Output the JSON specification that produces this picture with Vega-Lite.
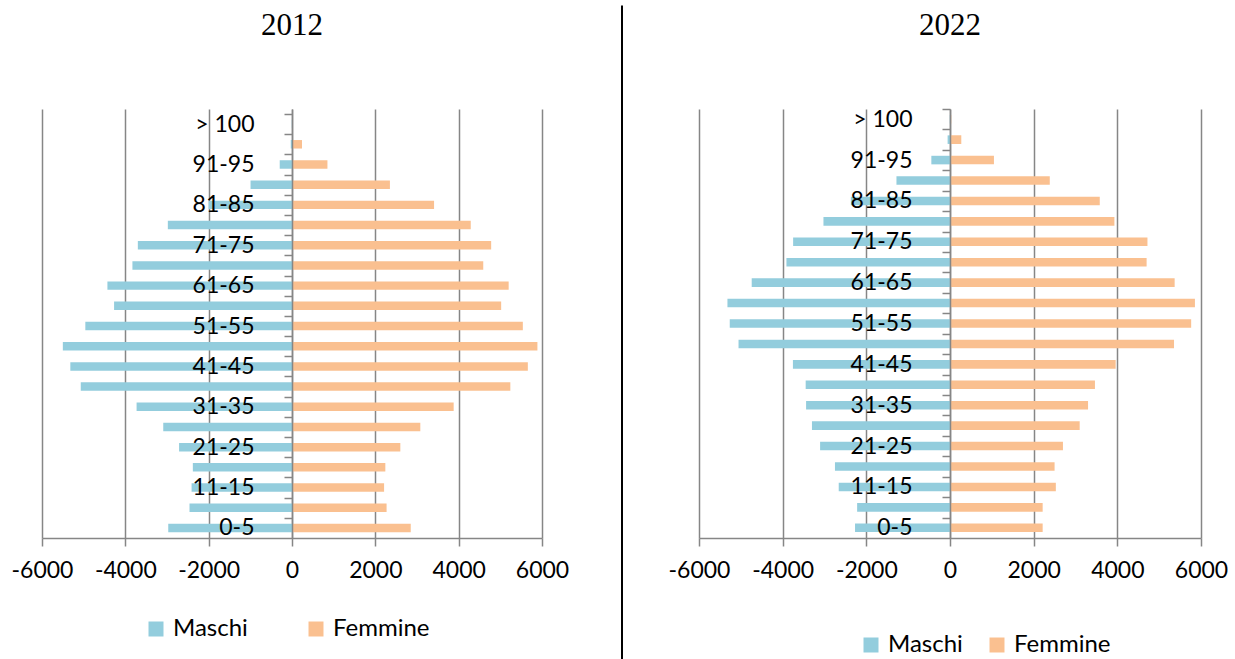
{
  "$schema": "https://vega.github.io/schema/vega-lite/v6.json",
  "background": "white",
  "padding": {"left": 11, "top": 4, "right": 0, "bottom": 0},
  "spacing": 45,
  "datasets": {
    "pop": [
      {"anno": "2012", "eta": "> 100", "sesso": "Maschi", "valore": -5},
      {"anno": "2012", "eta": "> 100", "sesso": "Femmine", "valore": 15},
      {"anno": "2012", "eta": "96-100", "sesso": "Maschi", "valore": -30},
      {"anno": "2012", "eta": "96-100", "sesso": "Femmine", "valore": 240},
      {"anno": "2012", "eta": "91-95", "sesso": "Maschi", "valore": -295},
      {"anno": "2012", "eta": "91-95", "sesso": "Femmine", "valore": 850},
      {"anno": "2012", "eta": "86-90", "sesso": "Maschi", "valore": -995},
      {"anno": "2012", "eta": "86-90", "sesso": "Femmine", "valore": 2350},
      {"anno": "2012", "eta": "81-85", "sesso": "Maschi", "valore": -2000},
      {"anno": "2012", "eta": "81-85", "sesso": "Femmine", "valore": 3410},
      {"anno": "2012", "eta": "76-80", "sesso": "Maschi", "valore": -2980},
      {"anno": "2012", "eta": "76-80", "sesso": "Femmine", "valore": 4290},
      {"anno": "2012", "eta": "71-75", "sesso": "Maschi", "valore": -3700},
      {"anno": "2012", "eta": "71-75", "sesso": "Femmine", "valore": 4780},
      {"anno": "2012", "eta": "66-70", "sesso": "Maschi", "valore": -3830},
      {"anno": "2012", "eta": "66-70", "sesso": "Femmine", "valore": 4590},
      {"anno": "2012", "eta": "61-65", "sesso": "Maschi", "valore": -4430},
      {"anno": "2012", "eta": "61-65", "sesso": "Femmine", "valore": 5200},
      {"anno": "2012", "eta": "56-60", "sesso": "Maschi", "valore": -4270},
      {"anno": "2012", "eta": "56-60", "sesso": "Femmine", "valore": 5020},
      {"anno": "2012", "eta": "51-55", "sesso": "Maschi", "valore": -4960},
      {"anno": "2012", "eta": "51-55", "sesso": "Femmine", "valore": 5540},
      {"anno": "2012", "eta": "46-50", "sesso": "Maschi", "valore": -5500},
      {"anno": "2012", "eta": "46-50", "sesso": "Femmine", "valore": 5890},
      {"anno": "2012", "eta": "41-45", "sesso": "Maschi", "valore": -5320},
      {"anno": "2012", "eta": "41-45", "sesso": "Femmine", "valore": 5660},
      {"anno": "2012", "eta": "36-40", "sesso": "Maschi", "valore": -5070},
      {"anno": "2012", "eta": "36-40", "sesso": "Femmine", "valore": 5240},
      {"anno": "2012", "eta": "31-35", "sesso": "Maschi", "valore": -3730},
      {"anno": "2012", "eta": "31-35", "sesso": "Femmine", "valore": 3880},
      {"anno": "2012", "eta": "26-30", "sesso": "Maschi", "valore": -3090},
      {"anno": "2012", "eta": "26-30", "sesso": "Femmine", "valore": 3080},
      {"anno": "2012", "eta": "21-25", "sesso": "Maschi", "valore": -2710},
      {"anno": "2012", "eta": "21-25", "sesso": "Femmine", "valore": 2600},
      {"anno": "2012", "eta": "16-20", "sesso": "Maschi", "valore": -2380},
      {"anno": "2012", "eta": "16-20", "sesso": "Femmine", "valore": 2240},
      {"anno": "2012", "eta": "11-15", "sesso": "Maschi", "valore": -2410},
      {"anno": "2012", "eta": "11-15", "sesso": "Femmine", "valore": 2210},
      {"anno": "2012", "eta": "6-10", "sesso": "Maschi", "valore": -2460},
      {"anno": "2012", "eta": "6-10", "sesso": "Femmine", "valore": 2270},
      {"anno": "2012", "eta": "0-5", "sesso": "Maschi", "valore": -2970},
      {"anno": "2012", "eta": "0-5", "sesso": "Femmine", "valore": 2850},
      {"anno": "2022", "eta": "> 100", "sesso": "Maschi", "valore": -5},
      {"anno": "2022", "eta": "> 100", "sesso": "Femmine", "valore": 30},
      {"anno": "2022", "eta": "96-100", "sesso": "Maschi", "valore": -57},
      {"anno": "2022", "eta": "96-100", "sesso": "Femmine", "valore": 270},
      {"anno": "2022", "eta": "91-95", "sesso": "Maschi", "valore": -446},
      {"anno": "2022", "eta": "91-95", "sesso": "Femmine", "valore": 1050},
      {"anno": "2022", "eta": "86-90", "sesso": "Maschi", "valore": -1280},
      {"anno": "2022", "eta": "86-90", "sesso": "Femmine", "valore": 2385},
      {"anno": "2022", "eta": "81-85", "sesso": "Maschi", "valore": -2370},
      {"anno": "2022", "eta": "81-85", "sesso": "Femmine", "valore": 3580},
      {"anno": "2022", "eta": "76-80", "sesso": "Maschi", "valore": -3025},
      {"anno": "2022", "eta": "76-80", "sesso": "Femmine", "valore": 3930},
      {"anno": "2022", "eta": "71-75", "sesso": "Maschi", "valore": -3750},
      {"anno": "2022", "eta": "71-75", "sesso": "Femmine", "valore": 4720},
      {"anno": "2022", "eta": "66-70", "sesso": "Maschi", "valore": -3910},
      {"anno": "2022", "eta": "66-70", "sesso": "Femmine", "valore": 4700},
      {"anno": "2022", "eta": "61-65", "sesso": "Maschi", "valore": -4740},
      {"anno": "2022", "eta": "61-65", "sesso": "Femmine", "valore": 5370},
      {"anno": "2022", "eta": "56-60", "sesso": "Maschi", "valore": -5320},
      {"anno": "2022", "eta": "56-60", "sesso": "Femmine", "valore": 5855},
      {"anno": "2022", "eta": "51-55", "sesso": "Maschi", "valore": -5265},
      {"anno": "2022", "eta": "51-55", "sesso": "Femmine", "valore": 5765},
      {"anno": "2022", "eta": "46-50", "sesso": "Maschi", "valore": -5055},
      {"anno": "2022", "eta": "46-50", "sesso": "Femmine", "valore": 5355},
      {"anno": "2022", "eta": "41-45", "sesso": "Maschi", "valore": -3755},
      {"anno": "2022", "eta": "41-45", "sesso": "Femmine", "valore": 3960},
      {"anno": "2022", "eta": "36-40", "sesso": "Maschi", "valore": -3450},
      {"anno": "2022", "eta": "36-40", "sesso": "Femmine", "valore": 3465},
      {"anno": "2022", "eta": "31-35", "sesso": "Maschi", "valore": -3440},
      {"anno": "2022", "eta": "31-35", "sesso": "Femmine", "valore": 3300},
      {"anno": "2022", "eta": "26-30", "sesso": "Maschi", "valore": -3300},
      {"anno": "2022", "eta": "26-30", "sesso": "Femmine", "valore": 3100},
      {"anno": "2022", "eta": "21-25", "sesso": "Maschi", "valore": -3105},
      {"anno": "2022", "eta": "21-25", "sesso": "Femmine", "valore": 2700},
      {"anno": "2022", "eta": "16-20", "sesso": "Maschi", "valore": -2750},
      {"anno": "2022", "eta": "16-20", "sesso": "Femmine", "valore": 2500},
      {"anno": "2022", "eta": "11-15", "sesso": "Maschi", "valore": -2660},
      {"anno": "2022", "eta": "11-15", "sesso": "Femmine", "valore": 2530},
      {"anno": "2022", "eta": "6-10", "sesso": "Maschi", "valore": -2220},
      {"anno": "2022", "eta": "6-10", "sesso": "Femmine", "valore": 2215},
      {"anno": "2022", "eta": "0-5", "sesso": "Maschi", "valore": -2270},
      {"anno": "2022", "eta": "0-5", "sesso": "Femmine", "valore": 2215}
    ]
  },
  "hconcat": [
    {
      "data": {"name": "pop"},
      "transform": [{"filter": "datum.anno == '2012'"}],
      "width": 500,
      "height": 429,
      "title": {"text": "2012", "font": "Liberation Serif", "fontSize": 31, "fontWeight": "normal", "color": "black", "anchor": "middle", "offset": 67},
      "mark": {"type": "bar"},
      "encoding": {
        "x": {
          "field": "valore", "type": "quantitative",
          "scale": {"domain": [-6000, 6000], "nice": false},
          "axis": {"title": null, "values": [-6000, -4000, -2000, 0, 2000, 4000, 6000], "grid": true, "gridColor": "#868686", "gridWidth": 1.5, "domain": true, "domainColor": "#868686", "domainWidth": 1.5, "ticks": true, "tickSize": 8, "tickColor": "#868686", "tickWidth": 1.5, "labelFont": "Lato", "labelFontSize": 23, "labelColor": "black", "labelPadding": 13, "labelFlush": false, "labelOverlap": false, "labelExpr": "datum.value + ''"}
        },
        "y": {
          "field": "eta", "type": "nominal",
          "sort": ["> 100", "96-100", "91-95", "86-90", "81-85", "76-80", "71-75", "66-70", "61-65", "56-60", "51-55", "46-50", "41-45", "36-40", "31-35", "26-30", "21-25", "16-20", "11-15", "6-10", "0-5"],
          "scale": {"paddingInner": 0.58, "paddingOuter": 0.414, "align": 0.65},
          "axis": {"title": null, "offset": -250, "grid": false, "domain": true, "domainColor": "#868686", "domainWidth": 1.5, "ticks": true, "tickSize": 8, "tickColor": "#868686", "tickWidth": 1.5, "tickOffset": -10.1, "labelOffset": 10.1, "labelFont": "Lato", "labelFontSize": 23, "labelColor": "black", "labelPadding": 30, "labelOverlap": false, "zindex": 1, "labelExpr": "indexof(['> 100','91-95','81-85','71-75','61-65','51-55','41-45','31-35','21-25','11-15','0-5'], datum.value) >= 0 ? datum.value : ''"}
        },
        "color": {
          "field": "sesso", "type": "nominal",
          "scale": {"domain": ["Maschi", "Femmine"], "range": ["#93CDDD", "#FAC090"]},
          "legend": {"orient": "none", "legendX": 102, "legendY": 508, "direction": "horizontal", "title": null, "symbolType": "square", "symbolSize": 225, "symbolStrokeWidth": 0, "symbolOpacity": 1, "labelFont": "Lato", "labelFontSize": 24, "labelColor": "black", "labelOffset": 5, "columnPadding": 56, "padding": 0}
        }
      }
    },
    {
      "data": {"values": [{"divisore": 1, "da": -0.29, "a": 1.241}]},
      "width": 8,
      "height": 429,
      "mark": {"type": "rule", "color": "black", "strokeWidth": 2, "clip": false},
      "encoding": {
        "x": {"field": "divisore", "type": "quantitative", "scale": {"domain": [0, 1]}, "axis": null},
        "y": {"field": "a", "type": "quantitative", "scale": {"domain": [0, 1], "nice": false, "zero": false}, "axis": null},
        "y2": {"field": "da"}
      }
    },
    {
      "data": {"name": "pop"},
      "transform": [{"filter": "datum.anno == '2022'"}],
      "width": 502,
      "height": 429,
      "title": {"text": "2022", "font": "Liberation Serif", "fontSize": 31, "fontWeight": "normal", "color": "black", "anchor": "middle", "offset": 66},
      "mark": {"type": "bar"},
      "encoding": {
        "x": {
          "field": "valore", "type": "quantitative",
          "scale": {"domain": [-6000, 6000], "nice": false},
          "axis": {"title": null, "values": [-6000, -4000, -2000, 0, 2000, 4000, 6000], "grid": true, "gridColor": "#868686", "gridWidth": 1.5, "domain": true, "domainColor": "#868686", "domainWidth": 1.5, "ticks": true, "tickSize": 8, "tickColor": "#868686", "tickWidth": 1.5, "labelFont": "Lato", "labelFontSize": 23, "labelColor": "black", "labelPadding": 13, "labelFlush": false, "labelOverlap": false, "labelExpr": "datum.value + ''"}
        },
        "y": {
          "field": "eta", "type": "nominal",
          "sort": ["> 100", "96-100", "91-95", "86-90", "81-85", "76-80", "71-75", "66-70", "61-65", "56-60", "51-55", "46-50", "41-45", "36-40", "31-35", "26-30", "21-25", "16-20", "11-15", "6-10", "0-5"],
          "scale": {"paddingInner": 0.58, "paddingOuter": 0.29},
          "axis": {"title": null, "offset": -251, "grid": false, "domain": true, "domainColor": "#868686", "domainWidth": 1.5, "ticks": true, "tickSize": 8, "tickColor": "#868686", "tickWidth": 1.5, "tickOffset": -10.2, "labelOffset": 10.2, "labelFont": "Lato", "labelFontSize": 23, "labelColor": "black", "labelPadding": 30, "labelOverlap": false, "zindex": 1, "labelExpr": "indexof(['> 100','91-95','81-85','71-75','61-65','51-55','41-45','31-35','21-25','11-15','0-5'], datum.value) >= 0 ? datum.value : ''"}
        },
        "color": {
          "field": "sesso", "type": "nominal",
          "scale": {"domain": ["Maschi", "Femmine"], "range": ["#93CDDD", "#FAC090"]},
          "legend": {"orient": "none", "legendX": 160, "legendY": 524, "direction": "horizontal", "title": null, "symbolType": "square", "symbolSize": 225, "symbolStrokeWidth": 0, "symbolOpacity": 1, "labelFont": "Lato", "labelFontSize": 24, "labelColor": "black", "labelOffset": 5, "columnPadding": 22, "padding": 0}
        }
      }
    }
  ],
  "resolve": {"scale": {"color": "independent"}, "legend": {"color": "independent"}},
  "config": {
    "view": {"stroke": null},
    "font": "Lato"
  }
}
